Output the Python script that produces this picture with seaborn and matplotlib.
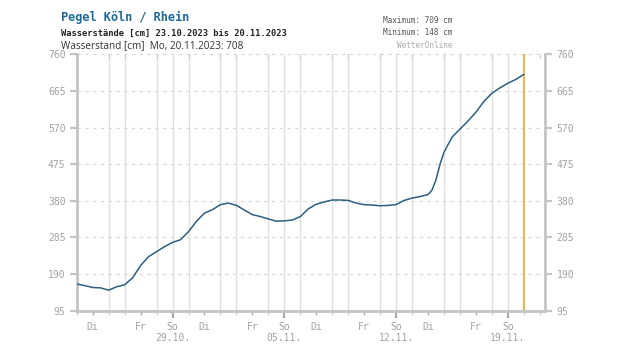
import numpy as np
import pandas as pd
import matplotlib
matplotlib.use("Agg")
import matplotlib.pyplot as plt
import matplotlib.lines as mlines
import seaborn as sns

# ---- data ----
start_date = "2023-10-23"
day_offsets = [0.0, 0.5, 1.0, 1.5, 2.0, 2.5, 3.0, 3.5, 4.0, 4.5, 5.0, 5.5, 6.0, 6.5,
               7.0, 7.5, 8.0, 8.5, 9.0, 9.5, 10.0, 10.5, 11.0, 11.5, 12.0, 12.5, 13.0,
               13.5, 14.0, 14.5, 15.0, 15.5, 16.0, 16.5, 17.0, 17.5, 18.0, 18.5, 19.0,
               19.5, 20.0, 20.5, 21.0, 21.5, 22.0, 22.25, 22.5, 22.75, 23.0, 23.5, 24.0,
               24.5, 25.0, 25.5, 26.0, 26.5, 27.0, 27.5, 28.0]
water_level = [164, 160, 155, 154, 148, 157, 162, 180, 212, 235, 248, 261, 272, 279,
               300, 327, 348, 357, 370, 374, 368, 356, 344, 339, 333, 327, 328,
               330, 339, 359, 371, 377, 382, 382, 381, 374, 370, 369, 367,
               368, 370, 381, 387, 391, 396, 408, 435, 475, 506, 545, 566,
               587, 610, 638, 659, 673, 685, 695, 708]
y_ticks = [95, 190, 285, 380, 475, 570, 665, 760]
weekday_names = ["Mo", "Di", "Mi", "Do", "Fr", "Sa", "So"]
labelled_weekdays = ["Di", "Fr", "So"]
now_marker = "2023-11-20"

title = "Pegel Köln / Rhein"
subtitle = "Wasserstände [cm] 23.10.2023 bis 20.11.2023"
current_text = "Wasserstand [cm]  Mo, 20.11.2023: 708"
max_text = "Maximum: 709 cm"
min_text = "Minimum: 148 cm"
brand = "WetterOnline"

# ---- styling ----
sns.set_theme(style="white")
plt.rcParams["font.family"] = ["DejaVu Sans Mono"]

t0 = pd.Timestamp(start_date)
t_now = pd.Timestamp(now_marker)
df = pd.DataFrame({
    "time": [t0 + pd.Timedelta(days=d) for d in day_offsets],
    "level": water_level,
})

fig = plt.figure(figsize=(6.32, 3.55), dpi=100)
ax = fig.add_axes([0.1214, 0.125, 0.7414, 0.722])

x_end = t0 + pd.Timedelta(days=29.34)
ax.set_xlim(t0, x_end)
ax.set_ylim(y_ticks[0], y_ticks[-1])

grid_c = "#e0e0e0"
axis_c = "#c4c4c4"
lab_c = "#a2a2a2"

# day grid lines (none on Tuesdays / Fridays)
days = pd.date_range(t0, x_end, freq="D")
for d in days[1:]:
    if weekday_names[d.weekday()] not in ("Di", "Fr"):
        ax.axvline(d, color=grid_c, lw=1.0, zorder=0)
for yv in y_ticks[1:]:
    ax.axhline(yv, color="#d6d6d6", lw=0.8, ls=(0, (3, 4)), zorder=0)

ax.axvline(t_now, color="#f2b44a", lw=1.4, zorder=1)

sns.lineplot(data=df, x="time", y="level", ax=ax, color="#2b5f80", lw=1.1, zorder=3)

ax.set_xlabel("")
ax.set_ylabel("")

# y axis both sides
ax.set_yticks(y_ticks)
ax.set_yticklabels([str(v) for v in y_ticks])
ax.tick_params(axis="y", which="both", left=True, right=True, labelleft=True,
               labelright=True, length=5, width=1.6, color=axis_c,
               labelcolor=lab_c, labelsize=7, pad=3)

# x axis ticks
lab_days = [d for d in days
            if weekday_names[d.weekday()] in labelled_weekdays and d < t_now]
ax.set_xticks(lab_days)
labels = []
for d in lab_days:
    w = weekday_names[d.weekday()]
    labels.append(f"{w}\n{d.strftime('%d.%m.')}" if w == "So" else w)
ax.set_xticklabels(labels)
ax.set_xticks(list(days), minor=True)
ax.tick_params(axis="x", which="major", bottom=True, length=5, width=1.6,
               color="#a8a8a8", labelcolor=lab_c, labelsize=7, pad=3)
ax.tick_params(axis="x", which="minor", bottom=True, top=True, direction="out",
               length=3, width=1.0, color="#cfcfcf")
for tk, d in zip(ax.xaxis.get_major_ticks(), lab_days):
    if weekday_names[d.weekday()] != "So":
        tk.tick1line.set_markersize(3)
        tk.tick1line.set_markeredgewidth(1.0)
        tk.tick1line.set_color("#cfcfcf")
for tk in ax.xaxis.get_minor_ticks():
    tk.tick2line.set_marker(mlines.TICKDOWN)
    tk.tick2line.set_markersize(3)

for s in ["left", "right", "bottom"]:
    ax.spines[s].set_color(axis_c)
    ax.spines[s].set_linewidth(2.0)
ax.spines["top"].set_visible(False)

# header texts
fig.text(0.0965, 0.951, title, color="#1f6a99", fontsize=8.6, fontweight="bold",
         va="center", ha="left")
fig.text(0.0965, 0.906, subtitle, color="#222222", fontsize=6.3, fontweight="bold",
         va="center", ha="left")
fig.text(0.0965, 0.872, current_text, color="#333333", fontsize=7.2,
         family=["Open Sans", "DejaVu Sans"], va="center", ha="left")
fig.text(0.716, 0.942, max_text, color="#555555", fontsize=5.6, va="center", ha="right")
fig.text(0.716, 0.909, min_text, color="#555555", fontsize=5.6, va="center", ha="right")
fig.text(0.716, 0.873, brand, color="#aaaaaa", fontsize=5.6, va="center", ha="right")

fig.savefig("out.png", dpi=100, facecolor="white")
